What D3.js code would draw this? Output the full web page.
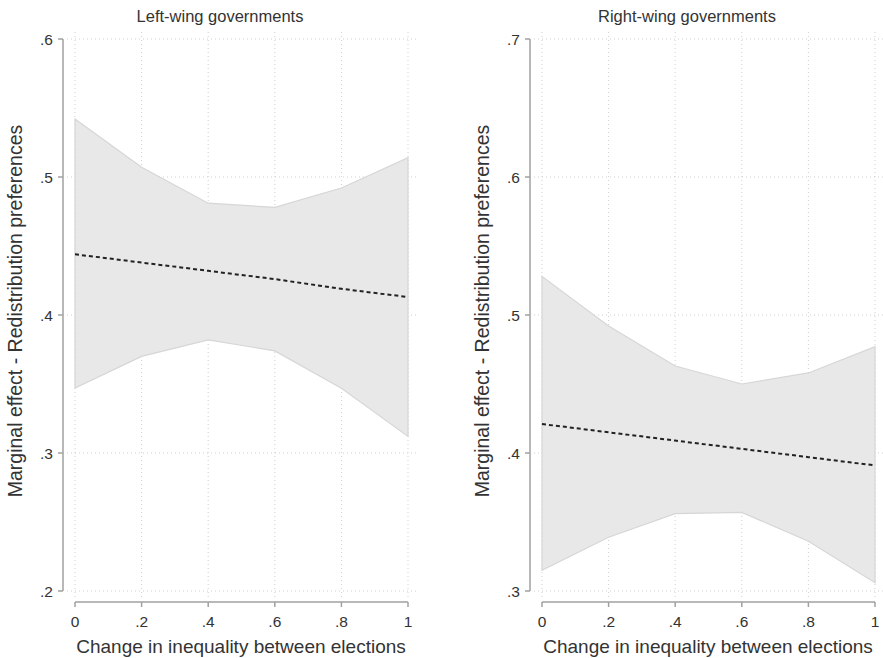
<!DOCTYPE html>
<html>
  <head>
    <script src="https://d3js.org/d3.v7.min.js"></script>
    <style>
      html, body { margin: 0; padding: 0; background: #fff; }
      svg { display: block; }
      text { font-family: "Liberation Sans", Arial, sans-serif; fill: #333; }
      .grid line { stroke: #cfcfcf; stroke-width: 1; stroke-dasharray: 1,3; }
      .axis line { stroke: #a0a0a0; stroke-width: 1.5; }
    </style>
  </head>
  <body>
    <div id="chart"></div>
    <script>
      // x values (change in inequality)
      const xVals = [0, 0.2, 0.4, 0.6, 0.8, 1];
      const xTicks = [0, 0.2, 0.4, 0.6, 0.8, 1];

      // Left-wing governments
      const leftEst   = [0.444, 0.438, 0.432, 0.426, 0.419, 0.413];
      const leftUpper = [0.542, 0.507, 0.481, 0.478, 0.492, 0.514];
      const leftLower = [0.347, 0.370, 0.382, 0.374, 0.347, 0.312];
      const leftYTicks = [0.2, 0.3, 0.4, 0.5, 0.6];

      // Right-wing governments
      const rightEst   = [0.421, 0.415, 0.409, 0.403, 0.397, 0.391];
      const rightUpper = [0.528, 0.492, 0.463, 0.450, 0.458, 0.477];
      const rightLower = [0.315, 0.339, 0.356, 0.357, 0.336, 0.306];
      const rightYTicks = [0.3, 0.4, 0.5, 0.6, 0.7];

      const titles = ["Left-wing governments", "Right-wing governments"];
      const xTitle = "Change in inequality between elections";
      const yTitle = "Marginal effect - Redistribution preferences";

      const width = 883, height = 658;
      const svg = d3.select("#chart").append("svg")
        .attr("width", width).attr("height", height);

      const fmt = d => (d === 0 ? "0" : d === 1 ? "1" : d3.format(".1f")(d).replace(/^0/, ""));

      function panel(opt) {
        const g = svg.append("g").attr("transform", `translate(${opt.dx},0)`);
        const x = d3.scaleLinear().domain([0, 1]).range([75, 408]);
        const y = d3.scaleLinear().domain(d3.extent(opt.yTicks)).range([591, 39]);
        const plotL = 67, plotR = opt.plotR, plotT = 32, plotB = 598;
        const yAxisX = 63, xAxisY = 602;

        // grid
        const grid = g.append("g").attr("class", "grid");
        grid.selectAll(".h").data(opt.yTicks).enter().append("line")
          .attr("x1", plotL).attr("x2", plotR)
          .attr("y1", d => y(d)).attr("y2", d => y(d));
        grid.selectAll(".v").data(xTicks).enter().append("line")
          .attr("x1", d => x(d)).attr("x2", d => x(d))
          .attr("y1", plotT).attr("y2", plotB);

        const rows = xVals.map((v, i) => ({ x: v, est: opt.est[i], lo: opt.lower[i], hi: opt.upper[i] }));

        // confidence band
        g.append("path").datum(rows)
          .attr("fill", "#e8e8e8")
          .attr("stroke", "#d6d6d6")
          .attr("stroke-width", 1.2)
          .attr("d", d3.area().x(d => x(d.x)).y0(d => y(d.lo)).y1(d => y(d.hi)));

        // point estimate
        g.append("path").datum(rows)
          .attr("fill", "none")
          .attr("stroke", "#222")
          .attr("stroke-width", 2)
          .attr("stroke-dasharray", "4,3")
          .attr("d", d3.line().x(d => x(d.x)).y(d => y(d.est)));

        // y axis
        const ya = g.append("g").attr("class", "axis");
        ya.append("line")
          .attr("x1", yAxisX).attr("x2", yAxisX)
          .attr("y1", y.range()[1]).attr("y2", y.range()[0]);
        ya.selectAll(".tk").data(opt.yTicks).enter().append("line")
          .attr("x1", yAxisX - 5).attr("x2", yAxisX)
          .attr("y1", d => y(d)).attr("y2", d => y(d));
        ya.selectAll("text").data(opt.yTicks).enter().append("text")
          .attr("x", yAxisX - 10).attr("y", d => y(d) + 5.5)
          .attr("text-anchor", "end")
          .attr("font-size", 15.5)
          .text(fmt);

        // x axis
        const xa = g.append("g").attr("class", "axis");
        xa.append("line")
          .attr("x1", x.range()[0]).attr("x2", x.range()[1])
          .attr("y1", xAxisY).attr("y2", xAxisY);
        xa.selectAll(".tk").data(xTicks).enter().append("line")
          .attr("x1", d => x(d)).attr("x2", d => x(d))
          .attr("y1", xAxisY).attr("y2", xAxisY + 5);
        xa.selectAll("text").data(xTicks).enter().append("text")
          .attr("x", d => x(d)).attr("y", 627)
          .attr("text-anchor", "middle")
          .attr("font-size", 15.5)
          .text(fmt);

        g.append("text")
          .attr("x", 220).attr("y", 22)
          .attr("text-anchor", "middle")
          .attr("font-size", 16.5)
          .text(opt.title);

        g.append("text")
          .attr("x", 241).attr("y", 653)
          .attr("text-anchor", "middle")
          .attr("font-size", 19)
          .text(xTitle);

        g.append("text")
          .attr("transform", "translate(22,311) rotate(-90)")
          .attr("text-anchor", "middle")
          .attr("font-size", 19.5)
          .text(yTitle);
      }

      panel({ dx: 0, plotR: 418, yTicks: leftYTicks, est: leftEst, upper: leftUpper, lower: leftLower, title: titles[0] });
      panel({ dx: 467, plotR: 416, yTicks: rightYTicks, est: rightEst, upper: rightUpper, lower: rightLower, title: titles[1] });
    </script>
  </body>
</html>
